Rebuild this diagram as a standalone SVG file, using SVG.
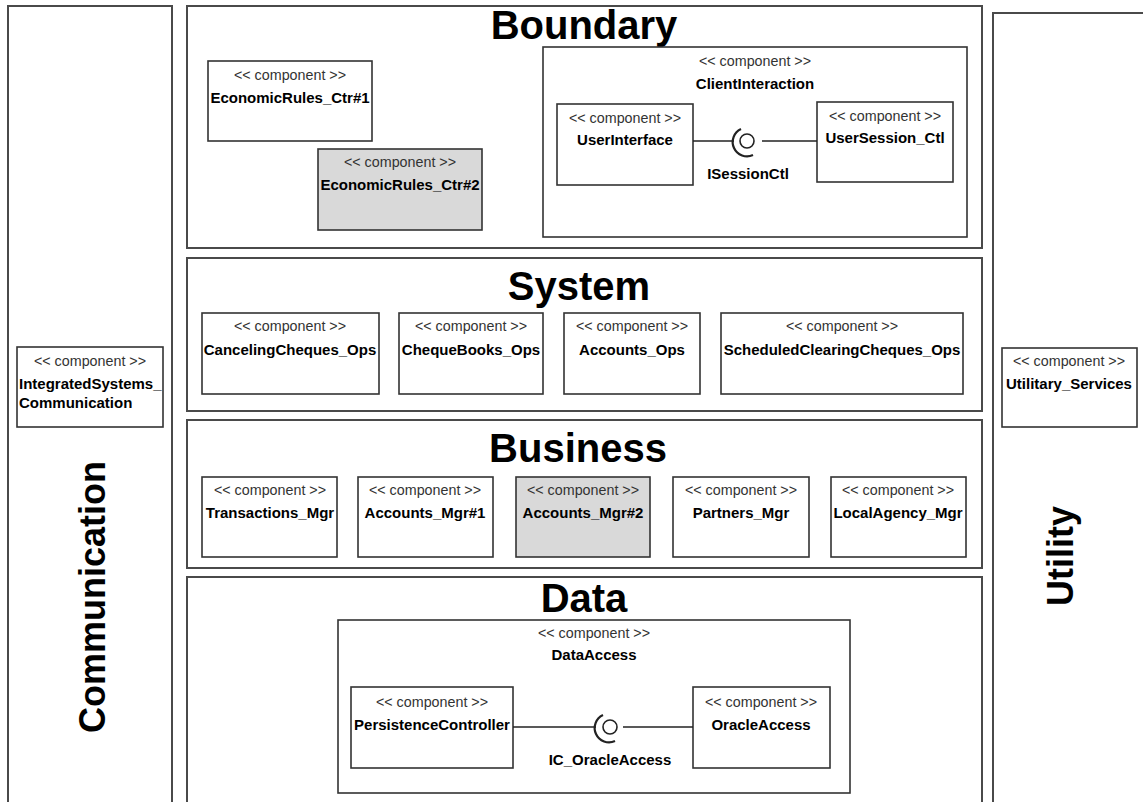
<svg xmlns="http://www.w3.org/2000/svg" width="1143" height="802" viewBox="0 0 1143 802">
  <style>
    .layer { fill: #ffffff; stroke: #4a4a4a; stroke-width: 2; }
    .comp { fill: #ffffff; stroke: #333333; stroke-width: 1.6; }
    .comp.alt { fill: #d9d9d9; }
    .title { font-family: "Liberation Sans", Arial, sans-serif; font-weight: bold; font-size: 40px; fill: #000; text-anchor: middle; }
    .vtitle { font-family: "Liberation Sans", Arial, sans-serif; font-weight: bold; font-size: 36px; fill: #000; text-anchor: middle; }
    .stereo { font-family: "Liberation Sans", Arial, sans-serif; font-size: 14.3px; fill: #333; text-anchor: middle; }
    .name { font-family: "Liberation Sans", Arial, sans-serif; font-weight: bold; font-size: 15px; fill: #000; text-anchor: middle; }
    .left { text-anchor: start; }
    .wire { stroke: #222; stroke-width: 1.6; fill: none; }
    .socket { stroke: #222; stroke-width: 2.2; fill: none; }
    .ball { stroke: #222; stroke-width: 1.6; fill: #fff; }
  </style>

  <rect width="1143" height="802" fill="#ffffff"/>

  <!-- vertical side layers -->
  <g id="layer-communication">
    <rect class="layer" x="8" y="6" width="164" height="810"/>
    <text class="vtitle" x="105" y="597" transform="rotate(-90 105 597)">Communication</text>
  </g>
  <g id="layer-utility">
    <rect class="layer" x="993" y="13" width="170" height="810"/>
    <text class="vtitle" x="1073" y="556" transform="rotate(-90 1073 556)">Utility</text>
  </g>

  <!-- horizontal layers -->
  <g id="layer-boundary">
    <rect class="layer" x="187" y="6" width="795" height="242"/>
    <text class="title" x="584" y="39">Boundary</text>
  </g>
  <g id="layer-system">
    <rect class="layer" x="187" y="258" width="795" height="153"/>
    <text class="title" x="579" y="300">System</text>
  </g>
  <g id="layer-business">
    <rect class="layer" x="187" y="420" width="795" height="148"/>
    <text class="title" x="578" y="462">Business</text>
  </g>
  <g id="layer-data">
    <rect class="layer" x="187" y="577" width="795" height="240"/>
    <text class="title" x="584" y="612">Data</text>
  </g>

  <!-- Boundary components -->
  <g id="economic-rules-1">
    <rect class="comp" x="208" y="61" width="164" height="80"/>
    <text class="stereo" x="290" y="80">&lt;&lt; component &gt;&gt;</text>
    <text class="name" x="290" y="103">EconomicRules_Ctr#1</text>
  </g>
  <g id="economic-rules-2">
    <rect class="comp alt" x="318" y="149" width="164" height="81"/>
    <text class="stereo" x="400" y="167">&lt;&lt; component &gt;&gt;</text>
    <text class="name" x="400" y="190">EconomicRules_Ctr#2</text>
  </g>
  <g id="client-interaction">
    <rect class="comp" x="543" y="47" width="424" height="190"/>
    <text class="stereo" x="755" y="66">&lt;&lt; component &gt;&gt;</text>
    <text class="name" x="755" y="89">ClientInteraction</text>
  </g>
  <g id="user-interface">
    <rect class="comp" x="557" y="104" width="136" height="81"/>
    <text class="stereo" x="625" y="123">&lt;&lt; component &gt;&gt;</text>
    <text class="name" x="625" y="145">UserInterface</text>
  </g>
  <g id="user-session-ctl">
    <rect class="comp" x="817" y="102" width="136" height="80"/>
    <text class="stereo" x="885" y="121">&lt;&lt; component &gt;&gt;</text>
    <text class="name" x="885" y="143">UserSession_Ctl</text>
  </g>

  <!-- System components -->
  <g id="canceling-cheques-ops">
    <rect class="comp" x="202" y="313" width="177" height="81"/>
    <text class="stereo" x="290" y="331">&lt;&lt; component &gt;&gt;</text>
    <text class="name" x="290" y="355">CancelingCheques_Ops</text>
  </g>
  <g id="cheque-books-ops">
    <rect class="comp" x="399" y="313" width="144" height="81"/>
    <text class="stereo" x="471" y="331">&lt;&lt; component &gt;&gt;</text>
    <text class="name" x="471" y="355">ChequeBooks_Ops</text>
  </g>
  <g id="accounts-ops">
    <rect class="comp" x="564" y="313" width="136" height="81"/>
    <text class="stereo" x="632" y="331">&lt;&lt; component &gt;&gt;</text>
    <text class="name" x="632" y="355">Accounts_Ops</text>
  </g>
  <g id="scheduled-clearing-cheques-ops">
    <rect class="comp" x="721" y="313" width="242" height="81"/>
    <text class="stereo" x="842" y="331">&lt;&lt; component &gt;&gt;</text>
    <text class="name" x="842" y="355">ScheduledClearingCheques_Ops</text>
  </g>

  <!-- Business components -->
  <g id="transactions-mgr">
    <rect class="comp" x="202" y="477" width="135" height="80"/>
    <text class="stereo" x="270" y="495">&lt;&lt; component &gt;&gt;</text>
    <text class="name" x="270" y="518">Transactions_Mgr</text>
  </g>
  <g id="accounts-mgr-1">
    <rect class="comp" x="358" y="477" width="135" height="80"/>
    <text class="stereo" x="425" y="495">&lt;&lt; component &gt;&gt;</text>
    <text class="name" x="425" y="518">Accounts_Mgr#1</text>
  </g>
  <g id="accounts-mgr-2">
    <rect class="comp alt" x="516" y="477" width="134" height="80"/>
    <text class="stereo" x="583" y="495">&lt;&lt; component &gt;&gt;</text>
    <text class="name" x="583" y="518">Accounts_Mgr#2</text>
  </g>
  <g id="partners-mgr">
    <rect class="comp" x="673" y="477" width="136" height="80"/>
    <text class="stereo" x="741" y="495">&lt;&lt; component &gt;&gt;</text>
    <text class="name" x="741" y="518">Partners_Mgr</text>
  </g>
  <g id="local-agency-mgr">
    <rect class="comp" x="831" y="477" width="135" height="80"/>
    <text class="stereo" x="898" y="495">&lt;&lt; component &gt;&gt;</text>
    <text class="name" x="898" y="518">LocalAgency_Mgr</text>
  </g>

  <!-- Data components -->
  <g id="data-access">
    <rect class="comp" x="338" y="620" width="512" height="173"/>
    <text class="stereo" x="594" y="638">&lt;&lt; component &gt;&gt;</text>
    <text class="name" x="594" y="660">DataAccess</text>
  </g>
  <g id="persistence-controller">
    <rect class="comp" x="351" y="687" width="162" height="81"/>
    <text class="stereo" x="432" y="707">&lt;&lt; component &gt;&gt;</text>
    <text class="name" x="432" y="730">PersistenceController</text>
  </g>
  <g id="oracle-access">
    <rect class="comp" x="693" y="687" width="137" height="81"/>
    <text class="stereo" x="761" y="707">&lt;&lt; component &gt;&gt;</text>
    <text class="name" x="761" y="730">OracleAccess</text>
  </g>

  <!-- Side components -->
  <g id="integrated-systems-communication">
    <rect class="comp" x="17" y="347" width="146" height="80"/>
    <text class="stereo" x="90" y="366">&lt;&lt; component &gt;&gt;</text>
    <text class="name left" x="19" y="389">IntegratedSystems_</text>
    <text class="name left" x="19" y="408">Communication</text>
  </g>
  <g id="utilitary-services">
    <rect class="comp" x="1002" y="348" width="135" height="79"/>
    <text class="stereo" x="1069" y="366">&lt;&lt; component &gt;&gt;</text>
    <text class="name" x="1069" y="389">Utilitary_Services</text>
  </g>

  <!-- provided/required interface connectors -->
  <g id="connectors">
    <g id="isessionctl">
      <line class="wire" x1="693" y1="141" x2="734" y2="141"/>
      <path class="socket" d="M 741 129 A 14 14 0 0 0 753 155"/>
      <circle class="ball" cx="747" cy="141" r="7"/>
      <line class="wire" x1="762" y1="141" x2="817" y2="141"/>
      <text class="name" x="748" y="179">ISessionCtl</text>
    </g>
    <g id="ic-oracleaccess">
      <line class="wire" x1="513" y1="727" x2="596" y2="727"/>
      <path class="socket" d="M 603 715 A 14 14 0 0 0 615 741"/>
      <circle class="ball" cx="610" cy="727" r="7"/>
      <line class="wire" x1="623" y1="727" x2="693" y2="727"/>
      <text class="name" x="610" y="765">IC_OracleAccess</text>
    </g>
  </g>
</svg>
